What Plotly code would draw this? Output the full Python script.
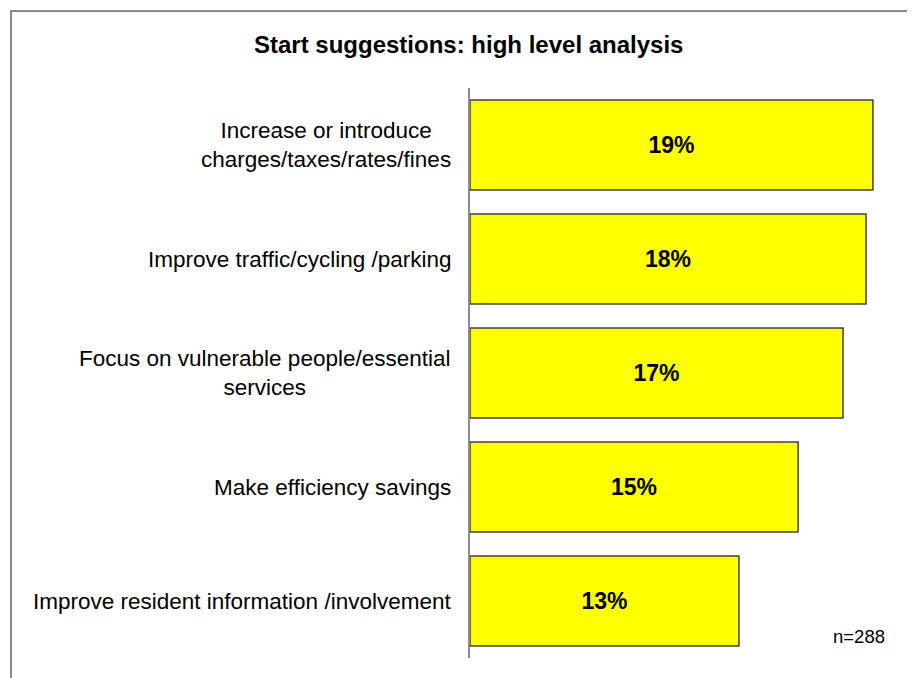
import plotly.graph_objects as go

categories = [
    "Increase or introduce<br>charges/taxes/rates/fines",
    "Improve traffic/cycling /parking",
    "Focus on vulnerable people/essential<br>services",
    "Make efficiency savings",
    "Improve resident information /involvement",
]
values = [18.74, 18.42, 17.35, 15.26, 12.51]
value_labels = ["19%", "18%", "17%", "15%", "13%"]
sample_note = "n=288"
title_text = "Start suggestions: high level analysis"

# page body margin offsets the figure by 8px; compensate
OFF = 8
W, H = 915, 678
L = 470 - OFF
T = 88 - OFF
pw = 430
ph = 570
R = W - L - pw
B = H - T - ph

def px_x(sx):
    return (sx - OFF - L) / pw

def px_y(sy):
    return (T + ph - (sy - OFF)) / ph

FONT = "Liberation Sans, Arial"

fig = go.Figure()
fig.add_trace(go.Bar(
    y=categories,
    x=values,
    orientation="h",
    marker=dict(color="#ffff00", line=dict(color="#404040", width=1.5)),
    text=value_labels,
    textposition="inside",
    insidetextanchor="middle",
    textangle=0,
    textfont=dict(family=FONT, size=23, color="black", weight="bold"),
    width=0.79,
    hoverinfo="skip",
))

annotations = []
for c in categories:
    annotations.append(dict(
        x=0, xref="paper", y=c, yref="y",
        text=c, showarrow=False, xanchor="right", yanchor="middle",
        align="center", xshift=-17,
        font=dict(family=FONT, size=22.5, color="black"),
    ))
annotations.append(dict(
    x=px_x(887), xref="paper", y=px_y(636), yref="paper",
    text=sample_note, showarrow=False, xanchor="right", yanchor="middle",
    font=dict(family=FONT, size=18.5, color="black"),
))
annotations.append(dict(
    x=px_x(468), xref="paper", y=px_y(45), yref="paper",
    text="<b>" + title_text + "</b>", showarrow=False, xanchor="center", yanchor="middle",
    font=dict(family=FONT, size=24, color="black"),
))

shapes = [dict(
    type="rect", xref="paper", yref="paper",
    x0=px_x(11), x1=px_x(935),
    y0=px_y(700), y1=px_y(11),
    line=dict(color="#8c8c8c", width=2), fillcolor="rgba(0,0,0,0)", layer="below",
)]

fig.update_layout(
    width=W, height=H,
    margin=dict(l=L, r=R, t=T, b=B),
    paper_bgcolor="white", plot_bgcolor="white",
    showlegend=False,
    bargap=0.21,
    xaxis=dict(range=[0, 20], visible=False, fixedrange=True),
    yaxis=dict(
        autorange="reversed", showticklabels=False, showgrid=False,
        showline=True, linecolor="#8c8c8c", linewidth=1.5, ticks="", zeroline=False,
        fixedrange=True,
    ),
    annotations=annotations,
    shapes=shapes,
)

fig.write_html("out.html")
